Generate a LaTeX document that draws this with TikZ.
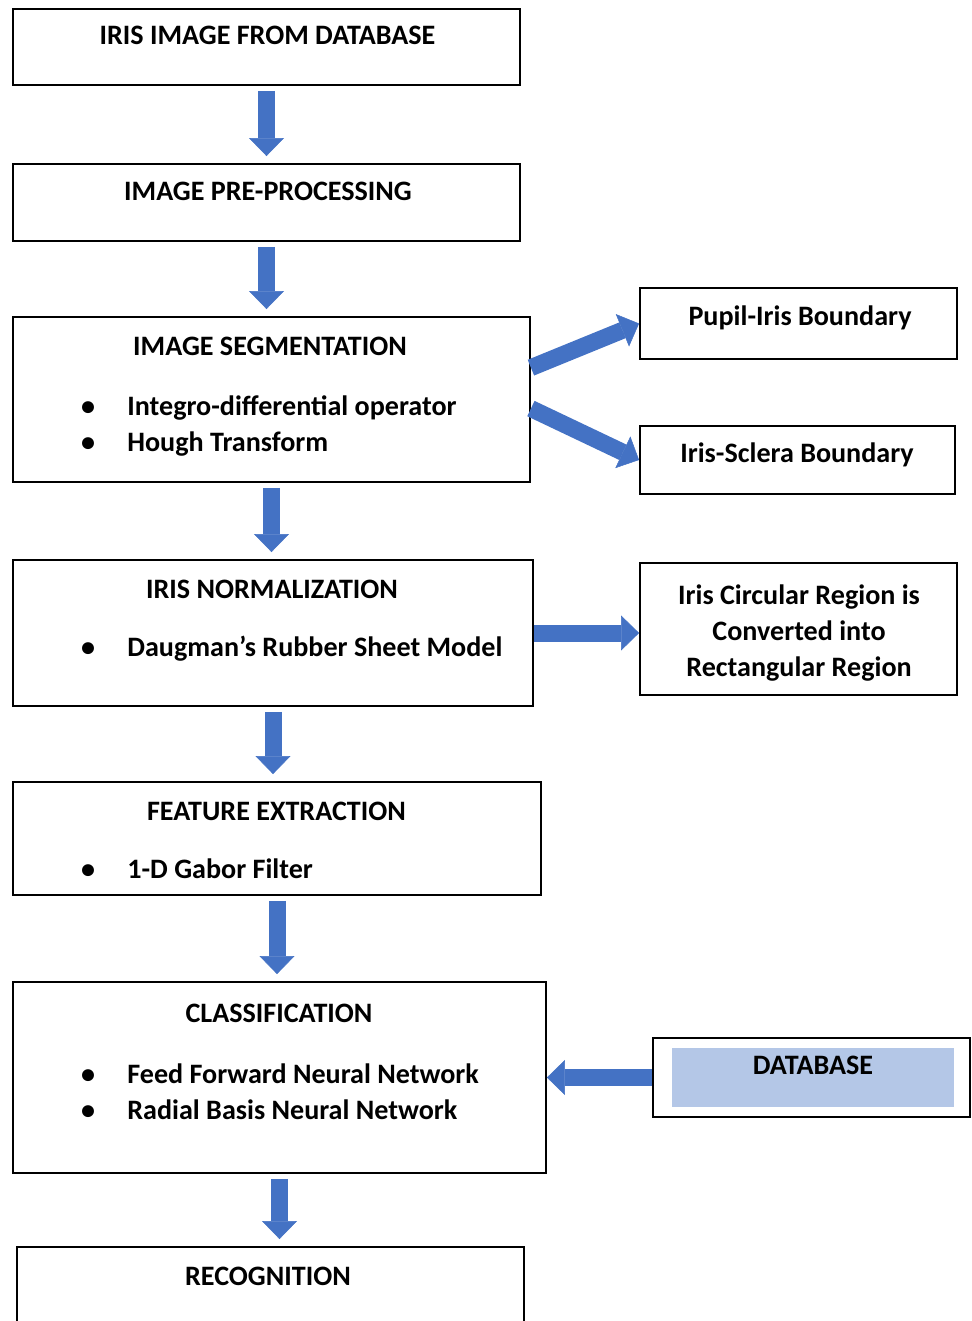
\documentclass[tikz,border=0pt]{standalone}
\usepackage{fontspec}
\setmainfont{Carlito}
\usepackage{tikz}
\usetikzlibrary{arrows.meta,positioning}
\definecolor{arrblue}{RGB}{68,114,196}
\definecolor{dbfill}{RGB}{180,199,231}

\begin{document}
\begin{tikzpicture}[x=0.02cm,y=-0.02cm]
    \tikzset{box/.style={draw,rectangle,line width=1.1pt,inner sep=0pt},
      txt/.style={inner sep=0pt,anchor=base,font=\bfseries\fontsize{16}{19}\selectfont},
      itm/.style={txt,anchor=base west},
      dot/.style={txt},
      blk/.style={draw=arrblue,line width=0.34cm,
        -{Triangle[length=0.36cm,width=0.70cm,line width=0.3pt,fill=arrblue]}},
      gap/.style={shorten <=0.1cm,shorten >=0.14cm}}
    \useasboundingbox (0,0) rectangle (971,1321);
    % main column
    \node[box,minimum width=10.14cm,minimum height=1.52cm] (input) at (266.5,47) {};
    \node[box,minimum width=10.14cm,minimum height=1.54cm] (prep) at (266.5,202.5) {};
    \node[box,minimum width=10.34cm,minimum height=3.30cm] (seg) at (271.5,399.5) {};
    \node[box,minimum width=10.40cm,minimum height=2.92cm] (norm) at (273,633) {};
    \node[box,minimum width=10.56cm,minimum height=2.26cm] (feat) at (277,838.5) {};
    \node[box,minimum width=10.66cm,minimum height=3.82cm] (cls) at (279.5,1077.5) {};
    \node[box,minimum width=10.14cm,minimum height=1.92cm] (recog) at (270.5,1295) {};
    % side boxes
    \node[box,minimum width=6.34cm,minimum height=1.42cm] (pupil) at (798.5,323.5) {};
    \node[box,minimum width=6.30cm,minimum height=1.36cm] (sclera) at (797.5,460) {};
    \node[box,minimum width=6.34cm,minimum height=2.64cm] (rect) at (798.5,629) {};
    \node[box,minimum width=6.34cm,minimum height=1.58cm] (db) at (811.5,1077.5) {};
    \node[fill=dbfill,inner sep=0pt,minimum width=5.64cm,minimum height=1.18cm] (dbin) at (813,1077.5) {};

    % titles
    \node[txt] (tinput) at (267.5,45) {IRIS IMAGE FROM DATABASE};
    \node[txt] (tprep) at (268,201) {IMAGE PRE-PROCESSING};
    \node[txt] (tseg) at (270,355) {IMAGE SEGMENTATION};
    \node[txt] (tnorm) at (272,598) {IRIS NORMALIZATION};
    \node[txt] (tfeat) at (276.5,820) {FEATURE EXTRACTION};
    \node[txt] (tcls) at (279,1022) {CLASSIFICATION};
    \node[txt] (trecog) at (268,1285) {RECOGNITION};
    \node[txt] (tpupil) at (800,325) {Pupil-Iris Boundary};
    \node[txt] (tsclera) at (797,462) {Iris-Sclera Boundary};
    \node[txt,anchor=center,align=center,font=\bfseries\fontsize{16}{20.5}\selectfont] (trect) at (799,633)
      {Iris Circular Region is\\Converted into\\Rectangular Region};
    \node[txt] (tdb) at (813,1074) {DATABASE};

    % bullet items
    \node[dot] (d1) at (88,415) {•};
    \node[itm] (i1) at (127,415) {Integro-differential operator};
    \node[dot] (d2) at (88,451) {•};
    \node[itm] (i2) at (127,451) {Hough Transform};
    \node[dot] (d3) at (88,656) {•};
    \node[itm] (i3) at (127,656) {Daugman’s Rubber Sheet Model};
    \node[dot] (d4) at (88,878) {•};
    \node[itm] (i4) at (127,878) {1-D Gabor Filter};
    \node[dot] (d5) at (88,1083) {•};
    \node[itm] (i5) at (127,1083) {Feed Forward Neural Network};
    \node[dot] (d6) at (88,1119) {•};
    \node[itm] (i6) at (127,1119) {Radial Basis Neural Network};

    \path[every edge/.style={blk}]
    (input.south) edge [gap] (input.south |- prep.north)
    (prep.south) edge [gap] (prep.south |- seg.north)
    (seg.south) edge [gap] (seg.south |- norm.north)
    (norm.south) edge [gap] (norm.south |- feat.north)
    (feat.south) edge [gap] (feat.south |- cls.north)
    (cls.south) edge [gap] (cls.south |- recog.north)
    (seg.7) edge [] (pupil.west)
    (seg.-2) edge [] (sclera.west)
    (norm.east) edge [] (norm.east -| rect.west)
    (db.west) edge [] (cls.east)
    ;
\end{tikzpicture}
\end{document}
